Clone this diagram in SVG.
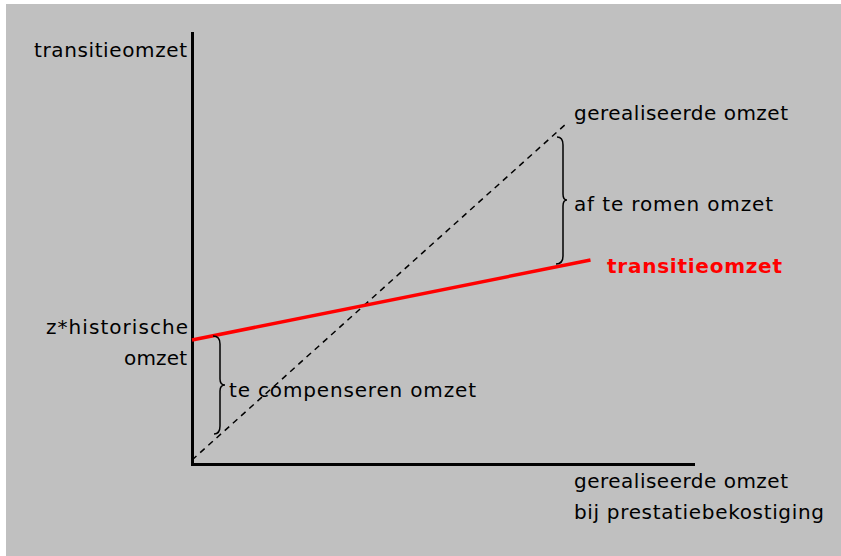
<svg xmlns="http://www.w3.org/2000/svg" width="841" height="556" viewBox="0 0 841 556">
<style>
.t{font-family:"DejaVu Sans",Verdana,sans-serif;font-size:20px;fill:#000}
.r{font-family:"DejaVu Sans",Verdana,sans-serif;font-size:20px;font-weight:bold;fill:#ff0000}
.br{fill:none;stroke:#000;stroke-width:1.5}
</style>
<rect x="0" y="0" width="841" height="556" fill="#ffffff"/>
<rect x="6" y="4" width="835" height="552" fill="#c0c0c0"/>
<g id="axes">
<line x1="192.5" y1="32" x2="192.5" y2="465.5" stroke="#000" stroke-width="3"/>
<line x1="191" y1="464.5" x2="695" y2="464.5" stroke="#000" stroke-width="3"/>
</g>
<g id="connectors">
<line id="gerealiseerd" x1="192" y1="460" x2="567" y2="123" stroke="#000" stroke-width="1.5" stroke-dasharray="6 5"/>
<line id="transitie" x1="192" y1="340" x2="590.5" y2="260" stroke="#ff0000" stroke-width="3.5"/>
<path id="brace-af" class="br" d="M557,137 Q563,137 563,145 L563,194 Q563,200 567,200 Q563,200 563,206 L563,256 Q563,264 556,264"/>
<path id="brace-comp" class="br" d="M213,336 Q220,336 220,344 L220,379 Q220,385 225,385 Q220,385 220,391 L220,426 Q220,434 214,434"/>
</g>
<g id="label-y"><text class="t" x="34" y="57" textLength="153" lengthAdjust="spacing">transitieomzet</text></g>
<g id="label-ger-top"><text class="t" x="574" y="120" textLength="214" lengthAdjust="spacing">gerealiseerde omzet</text></g>
<g id="label-af"><text class="t" x="574" y="211" textLength="199" lengthAdjust="spacing">af te romen omzet</text></g>
<g id="label-trans-red"><text class="r" x="607" y="273" textLength="175" lengthAdjust="spacing">transitieomzet</text></g>
<g id="label-hist">
<text class="t" x="46" y="334" textLength="142" lengthAdjust="spacing">z*historische</text>
<text class="t" x="124" y="365" textLength="63" lengthAdjust="spacing">omzet</text>
</g>
<g id="label-comp"><text class="t" x="229" y="397" textLength="247" lengthAdjust="spacing">te compenseren omzet</text></g>
<g id="label-x">
<text class="t" x="574" y="488" textLength="214" lengthAdjust="spacing">gerealiseerde omzet</text>
<text class="t" x="574" y="519" textLength="250" lengthAdjust="spacing">bij prestatiebekostiging</text>
</g>
</svg>
